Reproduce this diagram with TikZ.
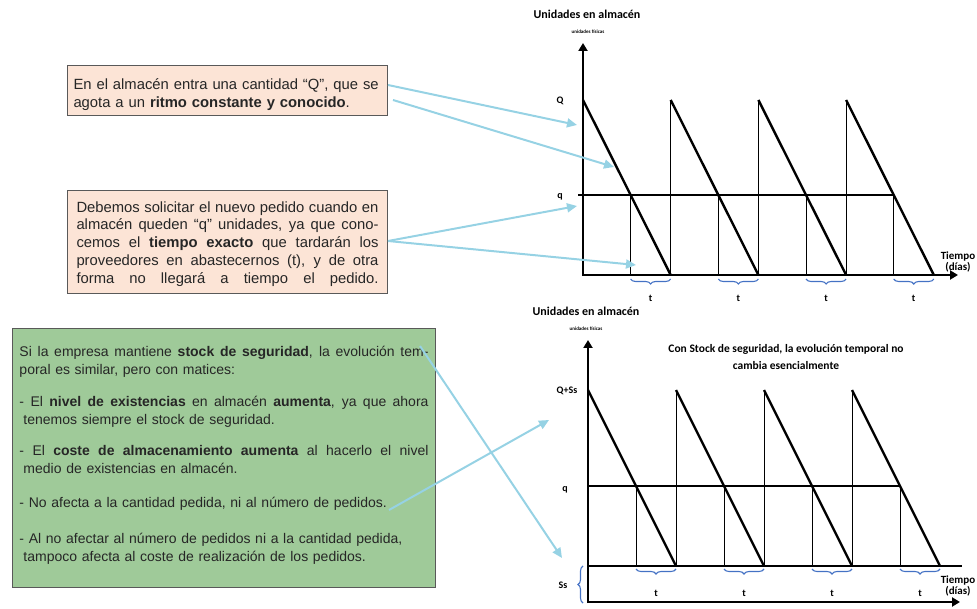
\documentclass[tikz,border=0pt]{standalone}
\usepackage{fontspec}
\setmainfont{Liberation Sans}
\newfontfamily\carlito{Carlito}
\usetikzlibrary{arrows.meta,decorations.pathreplacing}
\definecolor{melocoton}{RGB}{252,228,214}
\definecolor{verde}{RGB}{159,202,153}
\definecolor{borde}{RGB}{89,89,89}
\definecolor{celeste}{RGB}{150,210,228}
\definecolor{azul}{RGB}{68,114,196}
\definecolor{texto}{RGB}{38,38,38}
\newcommand{\linea}[2]{{\spaceskip=0pt\xspaceskip=0pt\makebox[#1][s]{#2}}}

\begin{document}
\begin{tikzpicture}[x=1pt,y=-1pt,
  caja/.style={draw=borde, line width=1pt, anchor=north west, align=left, text=texto, inner ysep=0pt},
  flecha/.style={draw=celeste, line width=2pt, -{Triangle[length=10pt,width=9pt]}},
  eje/.style={line width=2.6pt, -{Triangle[length=8pt,width=9pt]}},
  diente/.style={line width=2.4pt},
  fino/.style={line width=0.9pt},
  nivel/.style={line width=1.8pt},
  llave/.style={draw=azul, line width=1.1pt, decorate, decoration={brace,amplitude=5pt,mirror}},
  rotulo/.style={font=\carlito\bfseries\fontsize{#1}{#1}\selectfont},
  rotulo/.default=10
  ]
\useasboundingbox (0,0) rectangle (977,609);

% cuadros de texto
\node[caja, fill=melocoton, text width=308pt, inner xsep=6pt, minimum height=50pt,
  font=\fontsize{14.8}{17.7}\selectfont](caja1) at (67,65)
  {En el almacén entra una cantidad “Q”, que se\\
   agota a un \textbf{ritmo constante y conocido}.\par\vspace{-8pt}};
\node[caja, fill=melocoton, text width=302pt, inner xsep=9pt, minimum height=103pt,
  font=\fontsize{14.8}{17.9}\selectfont](caja2) at (67,190)
  {\linea{302pt}{Debemos solicitar el nuevo pedido cuando en}\\
   \linea{302pt}{almacén queden “q” unidades, ya que cono-}\\
   \linea{302pt}{cemos el \textbf{tiempo exacto} que tardarán los}\\
   \linea{302pt}{proveedores en abastecernos (t), y de otra}\\
   \linea{302pt}{forma no llegará a tiempo el pedido.}\par\vspace{-4pt}};
\node[caja, fill=verde, text width=409pt, inner xsep=7pt, minimum height=259pt,
  font=\fontsize{14}{18}\selectfont](caja3) at (12,328)
  {\linea{409pt}{Si la empresa mantiene \textbf{stock de seguridad}, la evolución tem-}\\
   poral es similar, pero con matices:\\[14pt]
   \linea{409pt}{- El \textbf{nivel de existencias} en almacén \textbf{aumenta}, ya que ahora}\\
   \hspace*{4pt}tenemos siempre el stock de seguridad.\\[13pt]
   \linea{409pt}{- El \textbf{coste de almacenamiento aumenta} al hacerlo el nivel}\\
   \hspace*{4pt}medio de existencias en almacén.\\[16pt]
   - No afecta a la cantidad pedida, ni al número de pedidos.\\[18pt]
   - Al no afectar al número de pedidos ni a la cantidad pedida,\\
   \hspace*{4pt}tampoco afecta al coste de realización de los pedidos.\par\vspace{5pt}};

% grafico superior
\node[rotulo=12](uds1) at (587,14) {Unidades en almacén};
\node[rotulo=5](fis1) at (588,32) {unidades físicas};
\draw[eje] (583,276) -- (583,43);
\draw[eje] (582,275) -- (958,275);
\foreach \i in {0,1,2,3}{
  \draw[diente] ({583+87.7*\i},100) -- ({670.7+87.7*\i},275);
  \draw[fino] ({630.6+87.7*\i},195) -- ({630.6+87.7*\i},275);
  \draw[llave] ({630.6+87.7*\i},279) -- ({670.7+87.7*\i},279);
  \node[rotulo](ta\i) at ({650.6+87.7*\i},298) {t};
}
\foreach \i in {1,2,3}
  \draw[fino] ({583+87.7*\i},275) -- ({583+87.7*\i},100);
\draw[nivel] (578,195) -- (893.7,195);
\node[rotulo](Q1) at (560,101) {Q};
\node[rotulo](q1) at (560,197) {q};
\node[rotulo=11, align=center, font=\carlito\bfseries\fontsize{11}{8}\selectfont](tiempo1) at (958,262) {Tiempo\\(días)};

% grafico inferior
\node[rotulo=12](uds2) at (586,311) {Unidades en almacén};
\node[rotulo=5](fis2) at (586,329) {unidades físicas};
\node[rotulo=11.5, align=center, font=\carlito\bfseries\fontsize{11.5}{17}\selectfont](titulo) at (786,357)
  {Con Stock de seguridad, la evolución temporal no\\cambia esencialmente};
\draw[eje] (588,603) -- (588,340);
\draw[eje] (587,602) -- (960,602);
\foreach \i in {0,1,2,3}{
  \draw[diente] ({588+88*\i},390) -- ({676+88*\i},566);
  \draw[fino] ({636+88*\i},486) -- ({636+88*\i},566);
  \draw[llave] ({636+88*\i},569) -- ({676+88*\i},569);
  \node[rotulo](tb\i) at ({656+88*\i},593) {t};
}
\foreach \i in {1,2,3}
  \draw[fino] ({588+88*\i},566) -- ({588+88*\i},390);
\draw[nivel] (588,486) -- (900,486);
\draw[line width=1.3pt] (588,566) -- (962,566);
\draw[llave] (583,566) -- (583,603);
\node[rotulo](Qs) at (567,391) {Q+Ss};
\node[rotulo](q2) at (565,490) {q};
\node[rotulo](Ss) at (563,585) {Ss};
\node[rotulo=11, align=center, font=\carlito\bfseries\fontsize{11}{8}\selectfont](tiempo2) at (958,586) {Tiempo\\(días)};

% flechas
\coordinate (s1) at (388,85);
\coordinate (s2) at (393,100);
\coordinate (s3) at (388,241);
\coordinate (s5) at (420,346);
\coordinate (s6) at (389,510);
\coordinate (e1) at (577,125);
\coordinate (e2) at (614,167);
\coordinate (e3) at (577,206);
\coordinate (e4) at (636,265);
\coordinate (e5) at (562,558);
\coordinate (e6) at (549,420);
\draw[flecha] (s1) -- (e1);
\draw[flecha] (s2) -- (e2);
\draw[flecha] (s3) -- (e3);
\draw[flecha] (s3) -- (e4);
\draw[flecha] (s5) -- (e5);
\draw[flecha] (s6) -- (e6);
\end{tikzpicture}
\end{document}
